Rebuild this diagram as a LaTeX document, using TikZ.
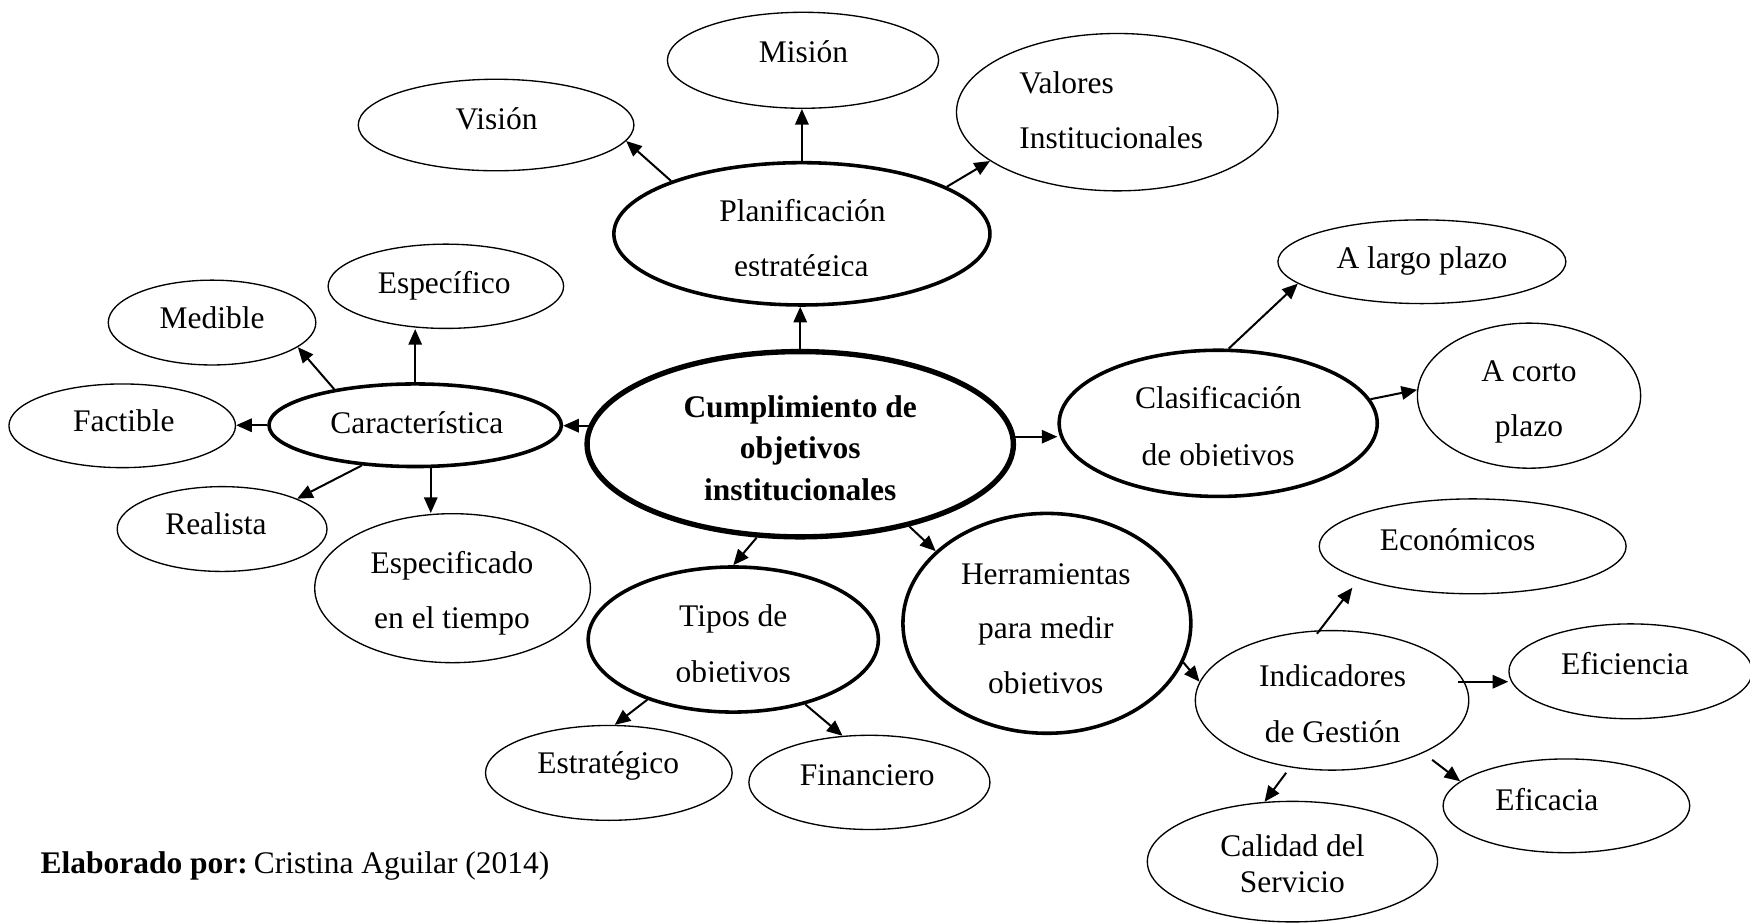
\documentclass[tikz,border=0pt]{standalone}
\usepackage{fontspec}
\setmainfont{Liberation Serif}
\usetikzlibrary{shapes.geometric,arrows.meta}
\begin{document}
\begin{tikzpicture}[x=0.5pt,y=-0.5pt,
  el/.style={draw, ellipse, inner sep=0pt, line width=0.6pt},
  elb/.style={el, line width=1.6pt},
  elc/.style={el, line width=2.4pt},
  tx/.style={inner sep=0pt, anchor=base, font=\fontsize{14.1pt}{17pt}\selectfont},
  txb/.style={tx, font=\fontsize{14.1pt}{17pt}\selectfont\bfseries},
  arr/.style={line width=0.9pt, -{Triangle[length=7pt,width=6pt]}}]
\useasboundingbox (0,0) rectangle (1568,827);
% ellipses
\node[el, minimum width=121.5pt, minimum height=43pt] (mision) at (719.5,54) {};
\node[el, minimum width=123.5pt, minimum height=41pt] (vision) at (444.5,112) {};
\node[el, minimum width=144pt, minimum height=70.5pt] (valores) at (1001,100.5) {};
\node[elb, minimum width=168.5pt, minimum height=63.75pt] (plan) at (718.5,209.5) {};
\node[elc, minimum width=191pt, minimum height=83pt] (central) at (717,398) {};
\node[elb, minimum width=131pt, minimum height=37pt] (car) at (372,381) {};
\node[el, minimum width=105.5pt, minimum height=37.75pt] (espec) at (399.5,256.5) {};
\node[el, minimum width=93pt, minimum height=38pt] (medible) at (190,289) {};
\node[el, minimum width=101.5pt, minimum height=37.5pt] (factible) at (109.5,381.5) {};
\node[el, minimum width=94pt, minimum height=38pt] (realista) at (199,474) {};
\node[el, minimum width=123.5pt, minimum height=66.75pt] (espt) at (405.5,527) {};
\node[elb, minimum width=142.5pt, minimum height=65.5pt] (clasif) at (1091.5,379.3) {};
\node[el, minimum width=129pt, minimum height=37.5pt] (largo) at (1274,234.5) {};
\node[el, minimum width=100pt, minimum height=65pt] (corto) at (1370,354.5) {};
\node[elb, minimum width=130pt, minimum height=65pt] (tipos) at (657,573) {};
\node[elb, minimum width=129pt, minimum height=98.5pt] (herr) at (938,558.5) {};
\node[el, minimum width=110.5pt, minimum height=42.5pt] (estrat) at (545.5,692.5) {};
\node[el, minimum width=108pt, minimum height=42.2pt] (finan) at (779,701) {};
\node[el, minimum width=122.5pt, minimum height=62.5pt] (ind) at (1193.5,627.5) {};
\node[el, minimum width=137.5pt, minimum height=42.5pt] (econ) at (1319.5,489.5) {};
\node[el, minimum width=109pt, minimum height=42.5pt] (efic) at (1461,601.5) {};
\node[el, minimum width=110.5pt, minimum height=42pt] (eficacia) at (1403.5,722) {};
\node[el, minimum width=130pt, minimum height=54pt] (calidad) at (1158,772) {};
% texts
\node[tx] (t-mision) at (720,56) {Misión};
\node[tx] (t-vision) at (445,115.6) {Visión};
\node[tx, anchor=base west] (t-val1) at (913,83.6) {Valores};
\node[tx, anchor=base west] (t-val2) at (913,133) {Institucionales};
\node[tx] (t-plan1) at (719,198.6) {Planificación};
\begin{scope}
\clip (600,150) rectangle (840,246.4);
\node[tx] (t-plan2) at (718,247.6) {estratégica};
\end{scope}
\node[txb] (t-c1) at (717,374) {Cumplimiento de};
\node[txb] (t-c2) at (717,410.7) {objetivos};
\node[txb] (t-c3) at (717,448) {institucionales};
\node[tx] (t-car) at (373.5,388) {Característica};
\node[tx] (t-espec) at (398,262.6) {Específico};
\node[tx] (t-medible) at (190,294) {Medible};
\node[tx] (t-factible) at (111,387) {Factible};
\node[tx] (t-realista) at (193.5,478.6) {Realista};
\node[tx] (t-espt1) at (405,513.6) {Especificado};
\node[tx] (t-espt2) at (405,563) {en el tiempo};
\node[tx] (t-clasif1) at (1091.5,365.7) {Clasificación};
\begin{scope}
\clip (950,380) rectangle (1230,417.5);
\node[tx] (t-clasif2) at (1091.5,417) {de objetivos};
\end{scope}
\node[tx] (t-largo) at (1274,241) {A largo plazo};
\node[tx] (t-corto1) at (1370,342) {A corto};
\node[tx] (t-corto2) at (1370,390.7) {plazo};
\node[tx] (t-tipos1) at (657,561) {Tipos de};
\begin{scope}
\clip (530,570) rectangle (785,610.8);
\node[tx] (t-tipos2) at (657,611.5) {objetivos};
\end{scope}
\node[tx] (t-herr1) at (937,524) {Herramientas};
\node[tx] (t-herr2) at (937,572) {para medir};
\begin{scope}
\clip (810,580) rectangle (1065,621.2);
\node[tx] (t-herr3) at (937,621.6) {objetivos};
\end{scope}
\node[tx] (t-estrat) at (545,693) {Estratégico};
\node[tx] (t-finan) at (777,703.5) {Financiero};
\node[tx] (t-ind1) at (1194,615.5) {Indicadores};
\node[tx] (t-ind2) at (1194,665.5) {de Gestión};
\node[tx] (t-econ) at (1306,493) {Económicos};
\node[tx] (t-efic) at (1456,604) {Eficiencia};
\node[tx] (t-eficacia) at (1386,726) {Eficacia};
\node[tx] (t-cal1) at (1158,767.6) {Calidad del};
\node[tx] (t-cal2) at (1158,800) {Servicio};
\node[tx, anchor=base west] (footer) at (36,783) {\textbf{Elaborado por:}\hspace{-2pt} Cristina Aguilar (2014)};
% connectors
\draw[arr] (plan.158) -- (vision.-7);
\draw[arr] (plan.north) -- (plan.north |- mision.south);
\draw[arr] (plan.18) -- (valores.-159);
\draw[arr] (central.north) -- (central.north |- plan.south);
\draw[arr] (central.175) -- (central.175 -| car.east);
\draw[arr] (car.north) -- (car.north |- espec.south);
\draw[arr] (car.156) -- (medible.-16);
\draw[arr] (car.west) -- (car.west -| factible.east);
\draw[arr] (car.-143) -- (realista.22);
\draw[arr] (car.-70) -- (car.-70 |- espt.north);
\draw[arr] (central.2) -- (central.2 -| clasif.west);
\draw[arr] (clasif.82) -- (largo.-170);
\draw[arr] (clasif.9) -- (corto.177);
\draw[arr] (central.-115) -- (tipos.north);
\draw[arr] (central.-37) -- (herr.147);
\draw[arr] (tipos.-145) -- (estrat.83);
\draw[arr] (tipos.-42) -- (finan.120);
\draw[arr] (herr.-16) -- (ind.172);
\draw[arr, shorten <=-2pt, shorten >=5pt] (ind.100) -- (econ.-164);
\draw[arr, shorten <=-3pt] (ind.8) -- (ind.8 -| efic.west);
\draw[arr, shorten <=5pt] (ind.-30) -- (eficacia.167);
\draw[arr, shorten <=3pt] (ind.-122) -- (calidad.115);
\end{tikzpicture}
\end{document}
